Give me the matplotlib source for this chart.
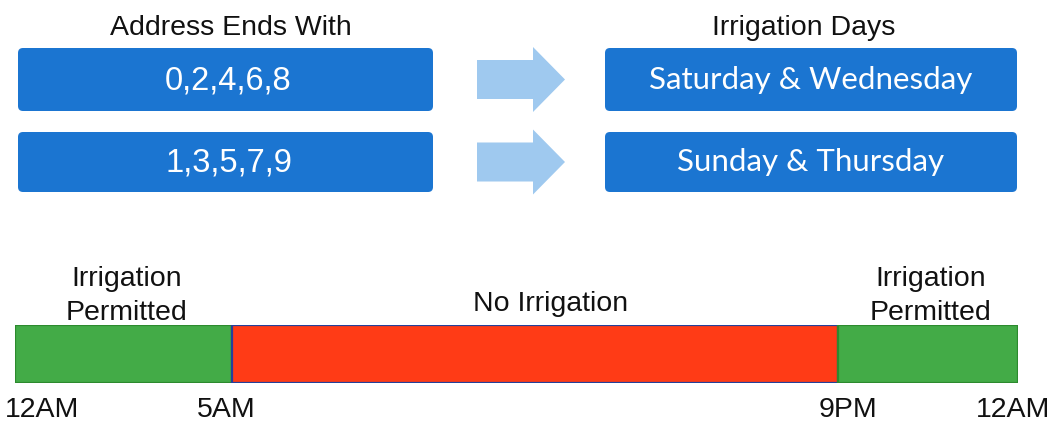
import numpy as np
import matplotlib.pyplot as plt
import matplotlib.patches as mpatches

# data
address_groups = ['0,2,4,6,8', '1,3,5,7,9']
irrigation_days = ['Saturday & Wednesday', 'Sunday & Thursday']
hour_marks = [0, 5, 21, 24]
hour_labels = ['12AM', '5AM', '9PM', '12AM']
segment_labels = ['Irrigation\nPermitted', 'No Irrigation', 'Irrigation\nPermitted']
segment_allowed = [True, False, True]

# layout (pixels of a 1055x426 canvas)
W, H = 1055, 426
box_rows = [(48, 111), (132, 192)]
left_box = (18, 433)
right_box = (605, 1017)
arrow_x = (477, 565)
bar_left, bar_right, bar_top, bar_bottom = 15, 1018, 325, 383
# the timeline is not drawn to scale: where each hour mark sits along the bar
mark_frac = [0, 217 / 1003, 823 / 1003, 1]

blue = '#1b75d1'
light_blue = '#9fc9ef'
green = '#43ab47'
red = '#ff3b16'

fig = plt.figure(figsize=(W / 100, H / 100), dpi=100)
ax = fig.add_axes([0, 0, 1, 1])
ax.set_xlim(0, W)
ax.set_ylim(H, 0)
ax.axis('off')

arial = 'Liberation Sans'
calibri = 'Lato'

ax.text(sum(left_box) / 2 + 5, 28, 'Address Ends With', ha='center', va='center',
        fontsize=20.5, family=arial, color='#111111')
ax.text(sum(right_box) / 2 - 7, 28, 'Irrigation Days', ha='center', va='center',
        fontsize=20.5, family=arial, color='#111111')

for (top, bottom), grp, days in zip(box_rows, address_groups, irrigation_days):
    for (x0, x1) in (left_box, right_box):
        ax.add_patch(mpatches.FancyBboxPatch((x0, top), x1 - x0, bottom - top,
                                             boxstyle='round,pad=0,rounding_size=5',
                                             facecolor=blue, edgecolor='none'))
    yc = (top + bottom) / 2
    ax.text(sum(left_box) / 2 + 3, yc + 1, grp, ha='center', va='center',
            fontsize=23.5, family=arial, color='white')
    ax.text(sum(right_box) / 2, yc, days, ha='center', va='center',
            fontsize=22.5, family=calibri, color='white')
    ax.add_patch(mpatches.FancyArrow(arrow_x[0], yc, arrow_x[1] - arrow_x[0], 0,
                                     width=39, head_width=65, head_length=32,
                                     length_includes_head=True,
                                     facecolor=light_blue, edgecolor='none'))

# timeline bar
tl = fig.add_axes([bar_left / W, 1 - bar_bottom / H,
                   (bar_right - bar_left) / W, (bar_bottom - bar_top) / H])
fwd = lambda h: np.interp(h, hour_marks, mark_frac)
inv = lambda f: np.interp(f, mark_frac, hour_marks)
tl.set_xscale('function', functions=(fwd, inv))
tl.set_xlim(hour_marks[0], hour_marks[-1])
tl.set_ylim(-0.5, 0.5)
tl.axis('off')

starts = np.array(hour_marks[:-1])
widths = np.diff(hour_marks)
faces = [green if ok else red for ok in segment_allowed]
edges = ['#2c8a2e' if ok else '#24409a' for ok in segment_allowed]
tl.barh(0, widths, left=starts, height=1, color=faces, edgecolor=edges, linewidth=1.6)

# pixel nudges for the labels above the bar
label_dx = [3, 16, 3]
label_dy = [-1, 8, -1]
for s, w, lab, dx, dy in zip(starts, widths, segment_labels, label_dx, label_dy):
    tl.annotate(lab, xy=(s + w / 2, 1), xycoords=('data', 'axes fraction'),
                xytext=(dx * 0.72, dy * 0.72), textcoords='offset points',
                ha='center', va='bottom', fontsize=20.5, family=arial,
                linespacing=1.4, color='#111111', annotation_clip=False)

tick_dx = [27, -6, 10, -5]
for h, lab, dx in zip(hour_marks, hour_labels, tick_dx):
    tl.annotate(lab, xy=(h, 0), xycoords=('data', 'axes fraction'),
                xytext=(dx * 0.72, -19.5), textcoords='offset points',
                ha='center', va='center', fontsize=20.5, family=arial,
                color='#111111', annotation_clip=False)

fig.savefig('out.png', dpi=100)
